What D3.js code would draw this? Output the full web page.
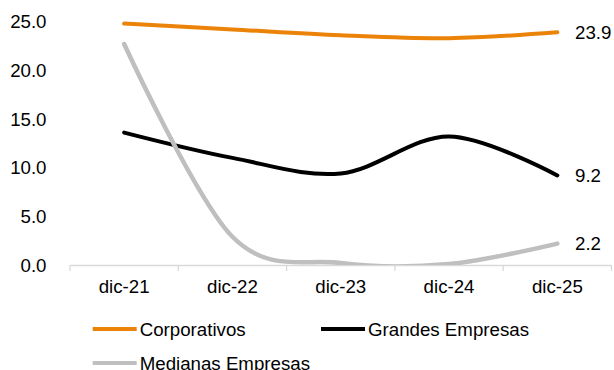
<!DOCTYPE html>
<html><head><meta charset="utf-8">
<script src="https://cdn.jsdelivr.net/npm/d3@7"></script>
<style>body{margin:0;background:#fff}svg{display:block}text{font-family:"Liberation Sans",Arial,sans-serif;fill:#000}</style>
</head><body>
<script>
const categories = ["dic-21","dic-22","dic-23","dic-24","dic-25"];
const corporativos = [24.8, 24.2, 23.6, 23.3, 23.9];
const grandes = [13.6, 11.0, 9.4, 13.2, 9.2];
const medianas = [22.7, 2.9, 0.2, 0.1, 2.2];
const yTicks = [0, 5, 10, 15, 20, 25];
const seriesNames = ["Corporativos", "Grandes Empresas", "Medianas Empresas"];
const colors = ["#EA8308", "#000000", "#BFBFBF"];

const W = 614, H = 370;
const svg = d3.select("body").append("svg").attr("width", W).attr("height", H);
const x = d3.scaleBand().domain(categories).range([70, 611.5]).padding(0);
const y = d3.scaleLinear().domain([0, 25]).range([265, 21.6]);
const fs = 18.7;

svg.append("clipPath").attr("id", "plot").append("rect")
  .attr("x", x.range()[0]).attr("y", 0)
  .attr("width", W - x.range()[0]).attr("height", y(0));

// y labels
svg.append("g").selectAll("text").data(yTicks).join("text")
  .attr("x", 46.5).attr("y", d => y(d)).attr("dy", "0.35em")
  .attr("text-anchor", "end").style("font-size", fs + "px")
  .text(d => d.toFixed(1));

// x axis
const xa = svg.append("g").attr("transform", "translate(0," + y(0) + ")")
  .call(d3.axisBottom(x).tickSize(0).tickPadding(15).tickSizeOuter(0));
xa.select(".domain").attr("stroke", "#D9D9D9").attr("stroke-width", 1.3);
xa.selectAll("text").style("font-size", fs + "px").attr("font-family", null).attr("fill", "#000");
const bounds = categories.map(c => x(c)).concat([x.range()[1]]);
svg.append("g").selectAll("line").data(bounds).join("line")
  .attr("x1", d => d).attr("x2", d => d).attr("y1", y(0)).attr("y2", y(0) + 6)
  .attr("stroke", "#D9D9D9").attr("stroke-width", 1.3);

const line = d3.line()
  .x((d, i) => x(categories[i]) + x.bandwidth() / 2)
  .y(d => y(d))
  .curve(d3.curveCardinal.tension(0));

const data = [corporativos, grandes, medianas];
data.forEach((s, k) => {
  svg.append("path").attr("d", line(s)).attr("fill", "none")
    .attr("clip-path", "url(#plot)")
    .attr("stroke", colors[k]).attr("stroke-width", k === 2 ? 4.5 : 4)
    .attr("stroke-linecap", "round");
});

// end labels
data.forEach((s, k) => {
  const v = s[s.length - 1];
  svg.append("text").attr("x", 575).attr("y", y(v)).attr("dy", "0.35em")
    .style("font-size", fs + "px").text(v.toFixed(1));
});

// legend
const legendPos = [[92.7, 329], [321, 329], [92.7, 363]];
seriesNames.forEach((n, k) => {
  const [lx, ly] = legendPos[k];
  svg.append("line").attr("x1", lx).attr("x2", lx + 44).attr("y1", ly).attr("y2", ly)
    .attr("stroke", colors[k]).attr("stroke-width", 4);
  svg.append("text").attr("x", lx + 47).attr("y", ly).attr("dy", "0.35em")
    .style("font-size", fs + "px").text(n);
});
</script>
</body></html>
